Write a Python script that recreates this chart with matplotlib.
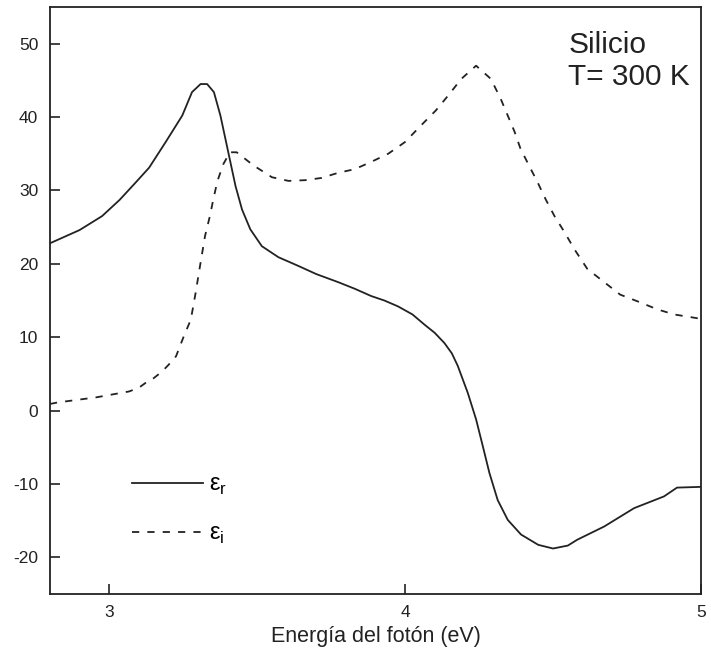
import numpy as np
import matplotlib
matplotlib.use("Agg")
from matplotlib import pyplot as plt

plt.rcParams['font.family'] = ['Liberation Sans', 'DejaVu Sans']
plt.rcParams['axes.unicode_minus'] = False

# energia del foton (eV) y parte real de la funcion dielectrica
er_x = [2.80, 2.90, 2.976, 3.035, 3.09, 3.135, 3.191, 3.247, 3.28, 3.309,
        3.331, 3.354, 3.376, 3.393, 3.41, 3.427, 3.449, 3.477, 3.516, 3.572,
        3.64, 3.70, 3.774, 3.83, 3.886, 3.93, 3.976, 4.025, 4.066, 4.10,
        4.133, 4.158, 4.178, 4.212, 4.24, 4.263,
        4.285, 4.313, 4.347, 4.392, 4.45, 4.5, 4.55, 4.582, 4.673, 4.774,
        4.875, 4.919, 5.0]
er_y = [22.8, 24.6, 26.5, 28.7, 31.1, 33.1, 36.6, 40.2, 43.4, 44.5,
        44.5, 43.4, 40.2, 37.0, 33.8, 30.6, 27.4, 24.7, 22.4, 20.9,
        19.7, 18.6, 17.5, 16.6, 15.6, 15.0, 14.2, 13.1, 11.7, 10.6,
        9.2, 7.8, 6.1, 2.4, -1.2, -4.9,
        -8.5, -12.2, -14.9, -16.9, -18.3, -18.8, -18.4, -17.6, -15.8, -13.3,
        -11.7, -10.5, -10.4]

# parte imaginaria
ei_x = [2.80, 2.825, 2.956, 3.067, 3.10, 3.124, 3.15, 3.178, 3.20, 3.226,
        3.252, 3.276, 3.292,
        3.307, 3.324, 3.341, 3.352, 3.366, 3.386, 3.408, 3.431, 3.488, 3.55,
        3.606, 3.663, 3.717, 3.774, 3.83, 3.886, 3.943, 4.0, 4.05, 4.104,
        4.145, 4.19, 4.24, 4.29, 4.323, 4.347, 4.37, 4.39, 4.42, 4.448,
        4.475, 4.505, 4.539, 4.572, 4.616, 4.673, 4.727, 4.791, 4.852, 4.909,
        4.97, 5.0]
ei_y = [0.9, 1.1, 1.8, 2.6, 3.1, 3.8, 4.4, 5.3, 6.2, 7.4,
        10.1, 12.4, 16.0,
        19.7, 23.8, 26.6, 28.8, 31.3, 33.6, 35.2, 35.2, 33.4, 31.8,
        31.3, 31.4, 31.7, 32.4, 32.9, 33.9, 35.0, 36.6, 38.7, 40.9,
        42.9, 45.2, 47.0, 45.2, 42.5, 40.2, 38.0, 35.7, 33.3, 31.1,
        28.8, 26.5, 24.3, 22.0, 19.3, 17.5, 15.8, 14.8, 13.8, 13.1,
        12.7, 12.5]

xticks = [3, 4, 5]
yticks = [-20, -10, 0, 10, 20, 30, 40, 50]

fig = plt.figure(figsize=(7.11, 6.6), dpi=100)
ax = fig.add_axes([0.0703, 0.1, 0.9156, 0.8894])

ax.plot(er_x, er_y, color='#222222', lw=1.3, label='ε$_\\mathregular{r}$')
ax.plot(ei_x, ei_y, color='#222222', lw=1.3, dashes=(4, 4.5),
        label='ε$_\\mathregular{i}$')

ax.set_xlim(2.8, 5.0)
ax.set_ylim(-25, 55)
ax.set_xticks(xticks)
ax.set_yticks(yticks)
ax.tick_params(direction='in', length=7, width=1.2, labelsize=12.5,
               colors='#222222')
ax.tick_params(axis='x', pad=8)
ax.tick_params(axis='y', pad=8.5)
for s in ax.spines.values():
    s.set_linewidth(1.3)
    s.set_color('#222222')

ax.set_xlabel('Energía del fotón (eV)', fontsize=15.5, color='#222222',
              labelpad=4)

ax.text(0.796, 0.959, 'Silicio\nT= 300 K', transform=ax.transAxes,
        fontsize=21.5, va='top', ha='left', color='#222222')

leg = ax.legend(loc='center left', bbox_to_anchor=(0.126, 0.143),
                frameon=False, fontsize=17, handlelength=3.0,
                handletextpad=0.25, labelspacing=1.1, borderpad=0,
                borderaxespad=0)

fig.savefig('out.png', dpi=100)
